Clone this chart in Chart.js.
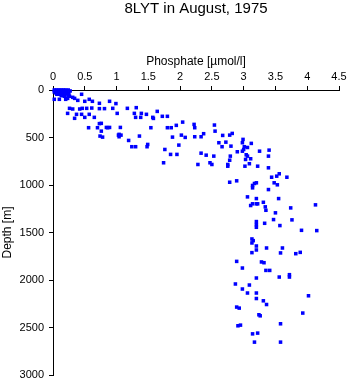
<!DOCTYPE html>
<html>
<head>
<meta charset="utf-8">
<script src="https://cdn.jsdelivr.net/npm/chart.js@4"></script>
<style>
  html, body { margin: 0; padding: 0; background: #fff; }
  canvas { display: block; }
</style>
</head>
<body>
<canvas id="profile" width="350" height="384"></canvas>
<script>
// station 8LYT, August 1975 - phosphate [umol/l] against depth [m]
const phosphate = [
  0.02, 0.05, 0.08, 0.11, 0.14, 0.17, 0.20, 0.24, 0.03, 0.07,
  0.12, 0.16, 0.21, 0.27, 0.02, 0.05, 0.09, 0.13, 0.18, 0.22,
  0.04, 0.08, 0.12, 0.16, 0.20, 0.25, 0.06, 0.10, 0.15, 0.19,
  0.24, 0.13,
  0.02, 0.10, 0.20, 0.18, 0.23, 0.26, 0.31, 0.34, 0.39, 0.45,
  0.50, 0.57, 0.62, 0.73, 0.89, 0.26, 0.31, 0.42, 0.46, 0.53,
  0.61, 0.73, 0.81, 0.23, 0.34, 0.37, 0.45, 0.50, 0.57, 0.65,
  0.76,
  0.99, 0.94, 1.01, 1.17, 1.31, 1.28, 1.30, 1.38, 1.39, 1.47,
  1.57, 1.64, 1.72, 1.80, 2.04, 0.84, 0.89, 1.06, 0.76, 0.74,
  0.78, 1.03, 1.36, 1.54, 1.80, 1.86, 1.94, 1.88, 2.02, 2.08,
  0.56, 0.70, 0.73, 0.86, 1.04, 1.07, 1.04, 1.19, 1.24, 1.30,
  1.48, 1.49, 1.76, 1.98, 1.85, 1.95, 1.74,
  1.58, 2.22, 2.23, 2.54, 2.55, 2.37, 2.67, 2.78, 2.82, 2.99,
  2.98, 3.12, 2.23, 2.33, 2.61, 2.72, 2.66, 2.80, 2.90, 3.00,
  3.01, 3.06, 2.98, 3.04, 3.06, 3.11, 3.03, 3.09, 3.25, 3.40,
  3.39, 2.33, 2.41, 2.53, 2.79, 2.78, 2.47, 2.50, 2.28, 2.75,
  2.75, 3.02, 3.22, 3.39, 3.56, 3.44, 3.52, 3.68, 3.48, 3.53,
  2.78, 2.89, 3.17, 3.20, 3.14, 3.14, 3.39, 3.06, 3.20, 3.55,
  3.31, 3.34, 3.14, 3.20, 3.22, 3.11, 3.35, 3.74, 4.13, 3.50,
  3.47, 3.76, 3.20, 3.20, 3.20, 3.33, 3.57, 3.91, 4.15, 3.13,
  3.15, 3.13, 3.20, 3.20, 3.36, 3.61, 3.13, 3.58, 3.82, 3.89,
  2.89, 3.28, 3.32, 2.98, 3.35, 3.41, 3.56, 3.72, 3.72, 3.20,
  2.87, 2.98, 3.09, 3.06, 3.20, 4.02, 3.20,
  3.31, 3.36, 2.89, 2.93, 3.24, 3.26, 3.93, 3.58, 2.91, 2.95,
  3.14, 3.22, 3.17, 3.58
];
const depth = [
  0, 0, 0, 0, 0, 0, 0, 0, 10, 10,
  10, 10, 10, 10, 20, 20, 20, 20, 20, 25,
  30, 30, 30, 30, 35, 35, 45, 45, 50, 50,
  55, 60,
  98, 98, 98, 66, 88, 66, 77, 88, 109, 45,
  119, 98, 119, 140, 119, 193, 200, 200, 193, 193,
  190, 196, 196, 246, 298, 256, 256, 288, 256, 288,
  351,
  143, 193, 246, 193, 186, 246, 288, 288, 246, 256,
  288, 225, 277, 277, 338, 394, 394, 394, 433, 485,
  496, 475, 485, 397, 397, 397, 372, 496, 475, 499,
  397, 397, 354, 397, 467, 475, 492, 531, 597, 597,
  597, 573, 626, 580, 678, 678, 766,
  299, 362, 397, 369, 433, 460, 478, 475, 457, 520,
  555, 562, 492, 492, 555, 549, 597, 591, 650, 626,
  597, 605, 644, 682, 696, 724, 731, 776, 644, 633,
  696, 665, 686, 696, 696, 739, 766, 784, 784, 784,
  802, 802, 802, 819, 882, 918, 907, 918, 977, 998,
  971, 956, 984, 977, 1005, 1030, 1048, 1125, 1143, 1143,
  1182, 1230, 1198, 1198, 1198, 1216, 1266, 1241, 1209, 1293,
  1364, 1367, 1385, 1417, 1445, 1403, 1427, 1477, 1480, 1568,
  1586, 1610, 1642, 1684, 1663, 1663, 1712, 1715, 1723, 1709,
  1804, 1810, 1818, 1874, 1899, 1899, 1969, 1944, 1969, 1979,
  2042, 2095, 2053, 2137, 2137, 2166, 2195,
  2219, 2258, 2285, 2296, 2366, 2377, 2348, 2461, 2482, 2475,
  2567, 2559, 2654, 2654
];
const phosphateTicks = [0, 0.5, 1, 1.5, 2, 2.5, 3, 3.5, 4, 4.5];
const depthTicks = [0, 500, 1000, 1500, 2000, 2500, 3000];

const font = 'Liberation Sans, Arial, Helvetica, sans-serif';

new Chart(document.getElementById('profile'), {
  type: 'scatter',
  data: {
    datasets: [{
      data: phosphate.map((p, i) => ({ x: p, y: depth[i] })),
      pointStyle: 'rect',
      pointRadius: 2.5,
      pointHoverRadius: 2.5,
      backgroundColor: '#0000ff',
      borderWidth: 0,
      clip: false
    }]
  },
  options: {
    responsive: false,
    animation: false,
    devicePixelRatio: 1,
    layout: { padding: { left: 0, top: 0, right: 11, bottom: 9 } },
    plugins: {
      legend: { display: false },
      tooltip: { enabled: false },
      title: {
        display: true,
        fullSize: false,
        text: '8LYT in August, 1975',
        color: '#000',
        font: { family: font, size: 15, weight: 'normal' },
        padding: { top: 0, bottom: 0 }
      }
    },
    scales: {
      x: {
        type: 'linear',
        position: 'top',
        min: 0,
        max: 4.5,
        afterBuildTicks: s => { s.ticks = phosphateTicks.map(v => ({ value: v })); },
        afterFit: s => { s.height = 90 - 18; },
        ticks: {
          color: '#000',
          padding: 2,
          maxRotation: 0,
          font: { family: font, size: 11 },
          callback: v => String(v)
        },
        grid: { drawOnChartArea: false, drawTicks: true, tickLength: 4, color: '#000' },
        border: { display: true, color: '#000', width: 1 },
        title: {
          display: true,
          text: 'Phosphate [\u00b5mol/l]',
          color: '#000',
          font: { family: font, size: 12 },
          padding: { top: 36, bottom: 0 }
        }
      },
      y: {
        type: 'linear',
        reverse: true,
        min: 0,
        max: 3000,
        afterBuildTicks: s => { s.ticks = depthTicks.map(v => ({ value: v })); },
        afterFit: s => {
          s.width = 53;
          s.paddingTop = 0;
          s.paddingBottom = 0;
        },
        ticks: {
          color: '#000',
          padding: 5,
          font: { family: font, size: 11 },
          callback: v => String(v)
        },
        grid: { drawOnChartArea: false, drawTicks: true, tickLength: 4, color: '#000' },
        border: { display: true, color: '#000', width: 1 },
        title: {
          display: true,
          text: 'Depth [m]',
          color: '#000',
          font: { family: font, size: 12 },
          padding: { top: 0, bottom: 0 }
        }
      }
    }
  }
});
</script>
</body>
</html>
